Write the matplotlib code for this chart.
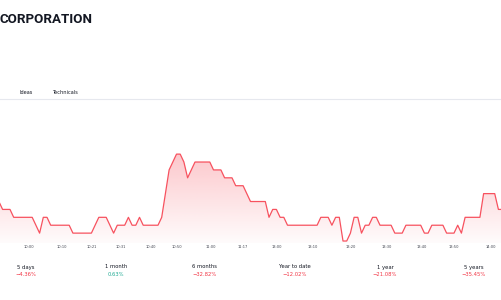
import numpy as np
import matplotlib
matplotlib.use("Agg")
import matplotlib.pyplot as plt
from matplotlib.patches import Polygon

# ---- data ----
prices = [9.85, 9.84, 9.84, 9.84, 9.83, 9.83, 9.83, 9.83, 9.83, 9.83,
          9.82, 9.81, 9.83, 9.83, 9.82, 9.82, 9.82, 9.82, 9.82, 9.82,
          9.81, 9.81, 9.81, 9.81, 9.81, 9.81, 9.82, 9.83, 9.83, 9.83,
          9.82, 9.81, 9.82, 9.82, 9.82, 9.83, 9.82, 9.82, 9.83, 9.82,
          9.82, 9.82, 9.82, 9.82, 9.83, 9.86, 9.89, 9.90, 9.91, 9.91,
          9.90, 9.88, 9.89, 9.90, 9.90, 9.90, 9.90, 9.90, 9.89, 9.89,
          9.89, 9.88, 9.88, 9.88, 9.87, 9.87, 9.87, 9.86, 9.85, 9.85,
          9.85, 9.85, 9.85, 9.83, 9.84, 9.84, 9.83, 9.83, 9.82, 9.82,
          9.82, 9.82, 9.82, 9.82, 9.82, 9.82, 9.82, 9.83, 9.83, 9.83,
          9.82, 9.83, 9.83, 9.80, 9.80, 9.81, 9.83, 9.83, 9.81, 9.82,
          9.82, 9.83, 9.83, 9.82, 9.82, 9.82, 9.82, 9.81, 9.81, 9.81,
          9.82, 9.82, 9.82, 9.82, 9.82, 9.81, 9.81, 9.82, 9.82, 9.82,
          9.82, 9.81, 9.81, 9.81, 9.82, 9.81, 9.83, 9.83, 9.83, 9.83,
          9.83, 9.86, 9.86, 9.86, 9.86, 9.84, 9.84]
tick_pos = [8.1, 17.1, 25.2, 33.0, 41.1, 48.1, 57.3, 66.0, 75.2, 84.9, 95.2, 104.9, 114.4, 123.0, 133.0]
tick_labels = ["10:00", "10:10", "10:21", "10:31", "10:40", "10:50", "11:00", "11:17",
               "13:00", "13:10", "13:20", "13:30", "13:40", "13:50", "14:00"]
periods = ["5 days", "1 month", "6 months", "Year to date", "1 year", "5 years"]
changes = ["\u22124.36%", "0.63%", "\u221232.82%", "\u221212.02%", "\u221221.08%", "\u221235.45%"]
title = "CORPORATION"
tabs = ["Ideas", "Technicals"]

RED = "#f7525f"
GREEN = "#22ab94"
TXT = "#131722"

W, H = 501, 300
fig = plt.figure(figsize=(W / 100, H / 100), dpi=100)
fig.patch.set_facecolor("white")

def fx(x):
    return x / W

def fy(y):
    return 1 - y / H

# title
fig.text(fx(-1), fy(19.5), title, fontsize=9.6, fontweight="bold", family=["Roboto", "DejaVu Sans"],
         color=TXT, ha="left", va="center")

# tabs
for lab, cx in zip(tabs, [26, 65]):
    fig.text(fx(cx), fy(92), lab, fontsize=3.6, color=TXT, ha="center", va="center")

# separator
fig.add_artist(plt.Line2D([0, 1], [fy(98.5), fy(98.5)], color="#e6e8ee", lw=0.8))

# chart axes
top_px, bot_px = 100, 243
ax = fig.add_axes([0, fy(bot_px), 1, (bot_px - top_px) / H])
x = np.arange(len(prices))
y = np.array(prices)
ax.set_xlim(0.297, 135.7)
ax.set_ylim(9.7975, 9.9785)

# gradient fill
ymin, ymax = ax.get_ylim()
grad = np.linspace(0.0, 1.0, 256).reshape(-1, 1)
rgba = np.zeros((256, 1, 4))
rc = matplotlib.colors.to_rgb(RED)
rgba[..., 0], rgba[..., 1], rgba[..., 2] = rc
rgba[..., 3] = 0.02 + 0.30 * grad[:, :]
im = ax.imshow(rgba, aspect="auto", origin="lower",
               extent=[x[0], x[-1], ymin, max(prices)], zorder=1)
verts = [(x[0], ymin)] + list(zip(x, y)) + [(x[-1], ymin)]
poly = Polygon(verts, closed=True, facecolor="none", edgecolor="none")
ax.add_patch(poly)
im.set_clip_path(poly)

ax.plot(x, y, color=RED, lw=0.9, zorder=3, solid_joinstyle="round")

for s in ax.spines.values():
    s.set_visible(False)
ax.set_yticks([])
ax.set_xticks(tick_pos)
ax.set_xticklabels(tick_labels)
ax.tick_params(axis="x", length=0, pad=1.2, labelsize=2.6, labelcolor="#434651")
ax.set_facecolor("none")

# performance stats
centers = [26, 116, 205, 295, 385, 474]
for p, c, cx in zip(periods, changes, centers):
    fig.text(fx(cx), fy(267), p, fontsize=3.8, color=TXT, ha="center", va="center")
    col = GREEN if not c.startswith("\u2212") else "#f23645"
    fig.text(fx(cx), fy(274), c, fontsize=3.8, color=col, ha="center", va="center")

fig.savefig("out.png", dpi=100, facecolor="white")
